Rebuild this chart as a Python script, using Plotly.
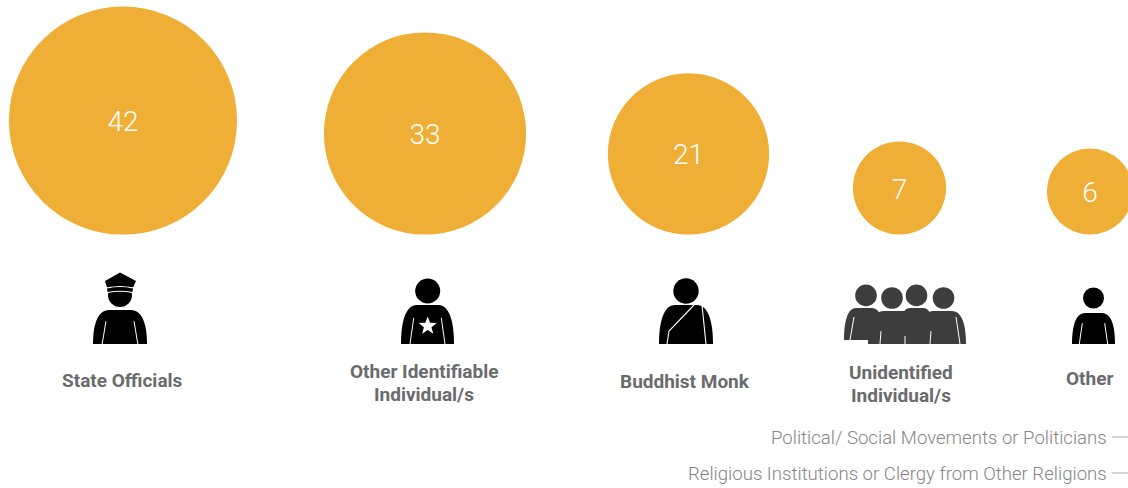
import math
import plotly.graph_objects as go

categories = ["State Officials", "Other Identifiable<br>Individual/s", "Buddhist Monk",
              "Unidentified<br>Individual/s", "Other"]
values = [42, 33, 21, 7, 6]
minor_categories = ["Political/ Social Movements or Politicians",
                    "Religious Institutions or Clergy from Other Religions"]

# layout (pixel-scaled axes)
W, H = 1128, 488
centers = [123, 425, 688.5, 899.5, 1090]
label_x = [122, 423.5, 684.5, 901, 1089.5]
label_y = [380, 371, 381, 372, 378]
minor_y = [437.5, 473.5]
LINE = 23
BASE = 234.6
TEXT_DROP = 3.5
K = 35.2
FONT = "Roboto"
AMBER = "#EFAE35"
diam = [K * math.sqrt(v) for v in values]
mid = [BASE - d / 2 for d in diam]

fig = go.Figure()
fig.add_trace(go.Scatter(
    x=centers, y=mid, mode="markers",
    marker=dict(size=diam, sizemode="diameter", color=AMBER, line=dict(width=0), opacity=1),
    hoverinfo="skip", showlegend=False))
fig.add_trace(go.Scatter(
    x=centers, y=[m + TEXT_DROP for m in mid], mode="text",
    text=[str(v) for v in values], textposition="middle center",
    textfont=dict(family=FONT, size=28, color="white", weight=300),
    hoverinfo="skip", showlegend=False))

shapes = []
def path(d, fill, line=None, width=0):
    shapes.append(dict(type="path", path=d, fillcolor=fill, xref="x", yref="y", layer="above",
                       line=dict(color=line or fill, width=width)))
def circle(cx, cy, r, fill):
    shapes.append(dict(type="circle", x0=cx - r, x1=cx + r, y0=cy - r, y1=cy + r,
                       fillcolor=fill, line=dict(width=0), xref="x", yref="y", layer="above"))
def stroke(d, color="white", width=1):
    shapes.append(dict(type="path", path=d, line=dict(color=color, width=width), xref="x", yref="y",
                       fillcolor="rgba(0,0,0,0)", layer="above"))
def body(x0, x1, yt, yb, fill):
    w = x1 - x0
    h = yb - yt
    path(f"M{x0},{yb} C{x0},{yb-h*.55} {x0+w*.08},{yt} {x0+w*.3},{yt} L{x1-w*.3},{yt} "
         f"C{x1-w*.08},{yt} {x1},{yb-h*.55} {x1},{yb} Z", fill)
def arms(x0, x1, yt, yb):
    w = x1 - x0
    h = yb - yt
    stroke(f"M{x0+w*.17},{yb} L{x0+w*.24},{yt+h*.33}")
    stroke(f"M{x1-w*.17},{yb} L{x1-w*.24},{yt+h*.33}")

K_ = "#000000"
# police officer
body(93, 147, 310, 344, K_)
arms(93, 147, 310, 344)
circle(120, 295, 12, K_)
path("M105,281 L120,272.5 L136,281 L133,287.5 Q120,284 107,287.5 Z", K_)
path("M107,288 Q120,285 133,288 L132.5,292 Q120,289.5 107.5,292 Z", K_)
stroke("M107,288 Q120,285 133,288", "white", 1.1)
stroke("M107.5,292.5 Q120,290 132.5,292.5", "white", 1.1)

# identifiable individual
body(401, 454, 305, 344, K_)
arms(401, 454, 305, 344)
circle(427.7, 291, 12.5, K_)
cx, cy, ro, ri = 427.7, 326, 9.5, 4
pts = []
for i in range(10):
    r = ro if i % 2 == 0 else ri
    a = -math.pi / 2 + i * math.pi / 5
    pts.append(f"{cx + r * math.cos(a):.1f},{cy + r * math.sin(a):.1f}")
path("M" + " L".join(pts) + " Z", "white")

# monk
body(659, 713, 305, 344, K_)
circle(686, 291, 12.7, K_)
stroke("M694,305 L669,331 L667,344", "white", 1.1)
stroke("M702,305 L706,344", "white", 1.1)

# group
G = "#3D3D3D"
for x0, x1, yt, yb in [(868, 921, 311, 344), (919, 966, 311, 344), (844, 884, 308, 340), (899, 934, 308, 340)]:
    body(x0, x1, yt, yb, G)
stroke("M850,340 L854,317")
stroke("M960,344 L956,317")
stroke("M880,344 L881,331")
stroke("M905,336 L905,344")
stroke("M930,344 L931,331")
for c, y0 in [(866, 295.4), (892, 298), (916.5, 295.4), (943.5, 298)]:
    circle(c, y0, 10.8, G)

# other
body(1072, 1115, 313, 344, K_)
arms(1072, 1115, 313, 344)
circle(1093.5, 298, 10.5, K_)

annotations = []
for t, x, y in zip(categories, label_x, label_y):
    for i, part in enumerate(t.split("<br>")):
        annotations.append(dict(text=part, x=x, y=y + i * LINE, xref="x", yref="y", showarrow=False,
                                xanchor="center", yanchor="middle",
                                font=dict(family=FONT, size=19, color="#6A6B6D", weight=700)))
for t, y in zip(minor_categories, minor_y):
    annotations.append(dict(text=t, x=1109, y=y, xref="x", yref="y", showarrow=False, xanchor="right",
                            yanchor="middle", font=dict(family=FONT, size=18.6, color="#858585", weight=300)))
    shapes.append(dict(type="line", x0=1112, x1=1128, y0=y - 0.5, y1=y - 0.5, xref="x", yref="y",
                       line=dict(color="#A8A8A8", width=1)))

fig.update_layout(
    width=W, height=H, margin=dict(l=0, r=0, t=0, b=0), autosize=False,
    paper_bgcolor="white", plot_bgcolor="white", showlegend=False,
    xaxis=dict(range=[0, W], visible=False, fixedrange=True),
    yaxis=dict(range=[H, 0], visible=False, fixedrange=True),
    shapes=shapes, annotations=annotations)
fig.write_html("out.html", config={"displayModeBar": False},
               post_script="document.body.style.margin='0';document.documentElement.style.overflow='hidden';")
